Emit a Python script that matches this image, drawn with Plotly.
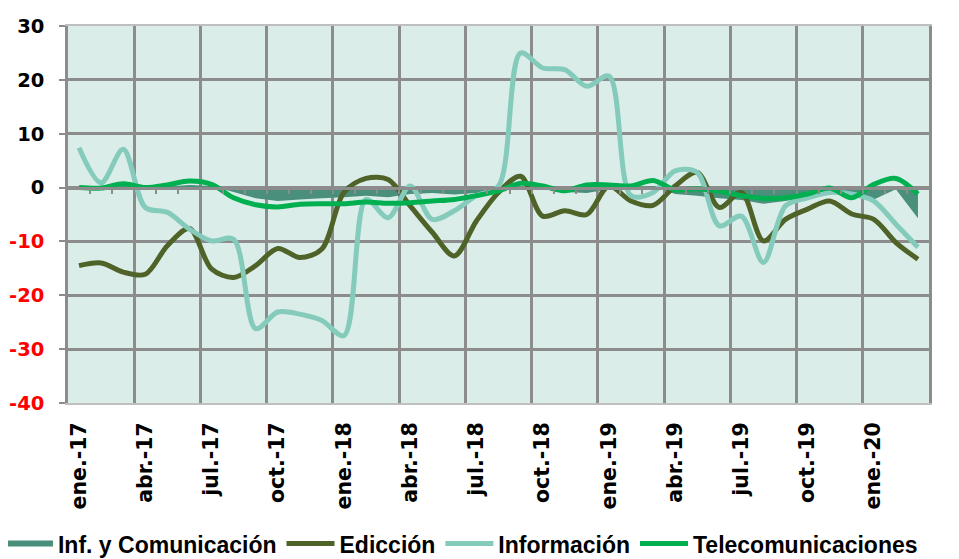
import plotly.graph_objects as go

meses = ["ene.", "feb.", "mar.", "abr.", "may.", "jun.", "jul.", "ago.", "sep.", "oct.", "nov.", "dic."]
years = ["17", "18", "19", "20"]
categorias = [f"{m}-{y}" for y in years for m in meses][:39]  # ene.-17 .. mar.-20

inf_y_comunicacion = [0.0, -0.2, 0.3, -0.2, 0.2, 0.5, 0.3, -0.8, -2.0, -2.5,
                      -2.2, -2.0, -1.8, -1.5, -1.8, -1.2, -1.0, -1.3, -1.0, -0.5,
                      0.2, -0.3, -0.8, -1.0, -0.3, 0.0, 0.3, -1.2, -1.5, -2.0,
                      -2.3, -3.0, -2.5, -1.8, -0.6, -1.5, -2.2, -0.3, -5.7]
edicion = [-14.5, -14.0, -15.7, -16.1, -10.8, -7.6, -15.1, -16.7, -14.5, -11.3,
           -13.0, -11.4, -0.9, 1.7, 1.5, -3.4, -8.3, -12.7, -6.2, -0.9,
           2.1, -5.3, -4.3, -5.0, 0.3, -2.5, -3.3, 0.3, 2.8, -3.7,
           -0.9, -9.9, -5.9, -4.0, -2.5, -4.9, -5.9, -10.2, -13.3]
informacion = [7.4, 0.9, 7.1, -3.7, -4.6, -7.7, -9.9, -9.6, -26.2, -23.1,
               -23.5, -24.7, -27.5, -2.2, -5.6, 0.3, -5.9, -4.3, -1.5, 0.3,
               25.0, 22.2, 21.9, 18.8, 20.7, -1.5, -0.9, 3.1, 2.8, -7.1,
               -5.3, -13.9, -3.4, -1.9, -0.9, -1.2, -2.5, -6.8, -11.1]
telecomunicaciones = [0.0, -0.1, 0.7, 0.0, 0.5, 1.2, 0.6, -1.9, -3.2, -3.6,
                      -3.1, -3.0, -3.0, -2.7, -2.9, -2.8, -2.5, -2.2, -1.5, -0.6,
                      0.8, 0.3, -0.6, 0.5, 0.5, 0.3, 1.3, -0.4, -0.2, -0.7,
                      -1.5, -2.0, -1.9, -1.2, -0.1, -1.9, 0.6, 1.7, -1.2]

ytick_vals = [-40, -30, -20, -10, 0, 10, 20, 30]
xtick_labels = categorias[::3]

grid = "#8c8c8c"
font_fam = "Verdana, DejaVu Sans, sans-serif"

fig = go.Figure()
fig.add_trace(go.Scatter(x=categorias, y=inf_y_comunicacion, name="Inf. y Comunicación",
                         mode="none", fill="tozeroy", fillcolor="#4a8f7b"))
fig.add_trace(go.Scatter(x=categorias, y=edicion, name="Edicción", mode="lines",
                         line=dict(color="#4f6228", width=5, shape="spline", smoothing=0.9)))
fig.add_trace(go.Scatter(x=categorias, y=informacion, name="Información", mode="lines",
                         line=dict(color="#84cbbb", width=5, shape="spline", smoothing=0.9)))
fig.add_trace(go.Scatter(x=categorias, y=telecomunicaciones, name="Telecomunicaciones", mode="lines",
                         line=dict(color="#00b050", width=5, shape="spline", smoothing=0.9)))
# helper traces so the overlay axes are drawn
fig.add_trace(go.Scatter(x=[None], y=[None], xaxis="x2", showlegend=False, hoverinfo="skip"))
fig.add_trace(go.Scatter(x=[None], y=[None], xaxis="x3", showlegend=False, hoverinfo="skip"))

n = len(categorias)
yticktext = [f'<span style="color:#ff0000">{v}</span>' if v < 0 else str(v) for v in ytick_vals]

# the page body has an 8px margin, so the figure is 8px smaller and shifted
fig.update_layout(
    width=951, height=551,
    margin=dict(l=60, r=30, t=18, b=156, autoexpand=False),
    paper_bgcolor="white",
    plot_bgcolor="#daede9",
    font=dict(family=font_fam, color="black"),
    showlegend=True,
    legend=dict(orientation="h", x=-0.079, xanchor="left", y=-0.316, yanchor="top",
                font=dict(family="Liberation Sans Narrow, Arial Narrow, Liberation Sans, sans-serif",
                          size=23, color="black", weight="bold"),
                itemwidth=48, tracegroupgap=0, bgcolor="rgba(0,0,0,0)"),
    xaxis=dict(type="category", categoryorder="array", categoryarray=categorias,
               range=[-0.5, n - 0.5], tickmode="array", tickvals=xtick_labels, ticktext=xtick_labels,
               tickangle=-90, showgrid=False, ticks="", ticklabelstandoff=9, automargin=False,
               tickfont=dict(family=font_fam, size=20.5, color="black", weight="bold"),
               showline=True, linecolor="#bfbfbf", linewidth=2, mirror=True, zeroline=False),
    xaxis2=dict(overlaying="x", range=[-0.5, n - 0.5], type="linear", automargin=False,
                tickmode="array", tickvals=[i - 0.5 for i in range(3, n, 3)],
                showgrid=True, gridcolor=grid, gridwidth=2.5, showticklabels=False, ticks="",
                zeroline=False, showline=False),
    xaxis3=dict(overlaying="x", anchor="free", position=40 / 70, range=[-0.5, n - 0.5], type="linear",
                tickmode="array", tickvals=[i - 0.5 for i in range(1, n)], automargin=False,
                showgrid=False, showticklabels=False, ticks="outside", ticklen=5, tickwidth=1.5,
                tickcolor=grid, showline=True, linecolor=grid, linewidth=2.5, zeroline=False),
    yaxis=dict(range=[-40, 30], tickmode="array", tickvals=ytick_vals, ticktext=yticktext,
               showgrid=True, gridcolor=grid, gridwidth=2.5, zeroline=False, automargin=False,
               ticks="outside", ticklen=6, tickwidth=2, tickcolor=grid, ticklabelstandoff=11,
               tickfont=dict(family=font_fam, size=19.5, color="black", weight="bold"),
               showline=True, linecolor=grid, linewidth=2.5, mirror=True),
)

fig.write_html("out.html")
